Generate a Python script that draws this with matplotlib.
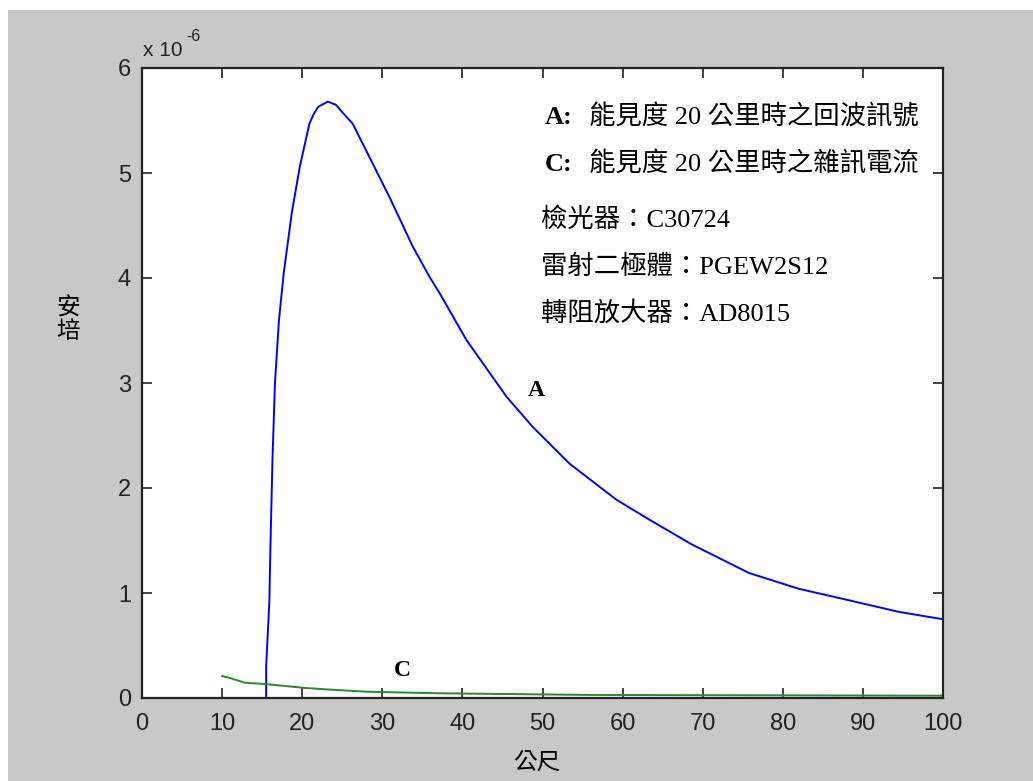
import matplotlib
matplotlib.use("Agg")
import matplotlib.pyplot as plt
from matplotlib.patches import Rectangle

# curve A: echo signal at 20 km visibility (units of 1e-6 A)
a_dist = [15.5, 15.5, 15.9, 16.05, 16.3, 16.6, 17.1, 17.7, 18.7, 19.7, 20.9, 21.5, 22.0,
          23.2, 24.2, 25.1, 26.3, 28.8, 30.9, 33.8, 35.9, 37.2, 40.5, 45.5, 48.8, 53.4,
          59.2, 63.3, 68.7, 75.8, 82.0, 88.3, 94.5, 100]
a_amp = [0, 0.30, 0.92, 1.5, 2.3, 3.0, 3.6, 4.05, 4.62, 5.06, 5.47, 5.57, 5.63,
         5.68, 5.65, 5.57, 5.47, 5.09, 4.77, 4.30, 4.01, 3.85, 3.41, 2.87, 2.58, 2.23,
         1.89, 1.70, 1.46, 1.19, 1.04, 0.93, 0.82, 0.75]

# curve C: noise current
c_dist = [10, 11, 12.8, 15.4, 20, 23, 28, 37, 56, 100]
c_amp = [0.21, 0.19, 0.146, 0.133, 0.098, 0.082, 0.06, 0.045, 0.029, 0.022]

xticks = [0, 10, 20, 30, 40, 50, 60, 70, 80, 90, 100]
yticks = [0, 1, 2, 3, 4, 5, 6]

info_lines = ["檢光器：C30724", "雷射二極體：PGEW2S12", "轉阻放大器：AD8015"]

W, H = 1033, 781
fig = plt.figure(figsize=(W / 100, H / 100), dpi=100, facecolor="white")
fig.patches.append(Rectangle((8 / W, 0), 1, 1 - 10 / H, transform=fig.transFigure,
                             facecolor="#c8c8c8", edgecolor="none", zorder=-10))

ax = fig.add_axes([142 / W, 1 - 698 / H, (943 - 142) / W, (698 - 68) / H])
ax.set_facecolor("white")

ax.plot(a_dist, a_amp, color="#0000ff", lw=1.4)
ax.plot(c_dist, c_amp, color="#1f8f1f", lw=1.4)

ax.set_xlim(0, 100)
ax.set_ylim(0, 6)
ax.set_xticks(xticks)
ax.set_yticks(yticks)
for s in ax.spines.values():
    s.set_linewidth(1.6)
    s.set_color("#222222")
ax.tick_params(direction="in", length=7, width=1.2, color="#222222",
               top=True, right=True, labelsize=17, labelcolor="#222222")
ax.tick_params(axis="x", pad=11)
ax.tick_params(axis="y", pad=8)
for lab in ax.get_xticklabels() + ax.get_yticklabels():
    lab.set_family("Liberation Sans")

cjk = ["Noto Sans CJK TC", "DejaVu Sans"]
mixed = ["Liberation Serif", "Noto Sans CJK TC"]


def ftext(px, py, s, **kw):
    fig.text(px / W, 1 - py / H, s, **kw)


# exponent label
ftext(143, 56.5, "x 10", fontsize=15, family="Liberation Sans", color="#222222", va="baseline")
ftext(186, 41, "-6", fontsize=11.5, family="Liberation Sans", color="#222222", va="baseline")

# axis labels
ftext(68, 320, "安\n培", fontsize=17, family=cjk, ha="center", va="center", linespacing=1.05)
ftext(537, 762, "公尺", fontsize=17, family=cjk, ha="center", va="center")

# legend-like notes
ftext(545, 124, "A:", fontsize=19, family="Liberation Serif", weight="bold", va="baseline")
ftext(589, 124, "能見度 20 公里時之回波訊號", fontsize=19, family=mixed, va="baseline")
ftext(545, 171, "C:", fontsize=19, family="Liberation Serif", weight="bold", va="baseline")
ftext(589, 171, "能見度 20 公里時之雜訊電流", fontsize=19, family=mixed, va="baseline")
for i, s in enumerate(info_lines):
    ftext(541, 227 + 47 * i, s, fontsize=19, family=mixed, va="baseline")

# curve labels
ax.text(49.2, 2.93, "A", fontsize=17, family="Liberation Serif", weight="bold",
        ha="center", va="center")
ax.text(32.5, 0.26, "C", fontsize=17, family="Liberation Serif", weight="bold",
        ha="center", va="center")

fig.savefig("out.png", dpi=100, facecolor=fig.get_facecolor())
